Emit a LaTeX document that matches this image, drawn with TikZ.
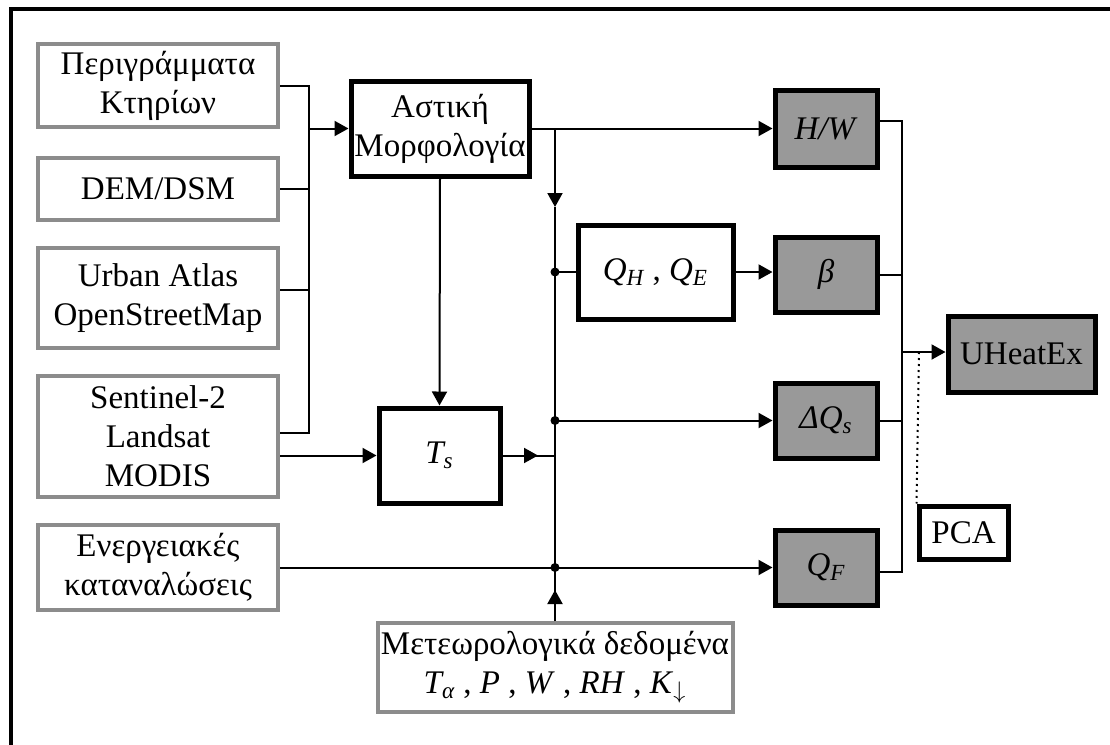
\documentclass[tikz,border=0pt]{standalone}
\usepackage{fontspec}
\setmainfont{Liberation Serif}
\usepackage{tikz}
\usetikzlibrary{positioning,calc,arrows.meta}

\definecolor{edgegray}{HTML}{8C8C8C}
\definecolor{boxgray}{HTML}{999999}

\begin{document}
\begin{tikzpicture}[x=0.5pt, y=-0.5pt,
        font=\fontsize{16.5}{19.5}\selectfont,
        inbox/.style={draw=edgegray, line width=2pt, fill=white, rectangle, align=center, inner sep=0pt, minimum width=120pt},
        block/.style={draw, line width=2.5pt, fill=white, rectangle, align=center, inner sep=0pt},
        outbox/.style={block, fill=boxgray, minimum width=51pt, minimum height=37.5pt},
        conn/.style={line width=1pt},
        dot/.style={circle, fill, inner sep=0pt, minimum size=4.5pt},
        >={Triangle[length=7pt,width=7.5pt]}
    ]
        \useasboundingbox (0,0) rectangle (1110,745);
        % frame
        \draw [line width=2pt] (11,745) -- (11,9) -- (1110,9);

        % input data
        \node [inbox, minimum height=41.5pt] (outl) at (158,85.5) {Περιγράμματα\\Κτηρίων};
        \node [inbox, minimum height=31pt] (dem) at (158,189) {DEM/DSM};
        \node [inbox, minimum height=50pt] (atlas) at (158,298) {Urban Atlas\\OpenStreetMap};
        \node [inbox, minimum height=60.5pt] (sat) at (158,436.5) {Sentinel-2\\Landsat\\MODIS};
        \node [inbox, minimum height=42.5pt] (energy) at (158,567.5) {Ενεργειακές\\καταναλώσεις};

        % processing
        \node [block, minimum width=89pt, minimum height=47.5pt] (morph) at (440,128.5) {Αστική\\Μορφολογία};
        \node [block, minimum width=60.5pt, minimum height=47.5pt] (ts) at (439.5,455.5) {\textit{T\textsubscript{s}}};
        \node [block, minimum width=77.5pt, minimum height=47pt] (flux) at (655.5,272) {\textit{Q\textsubscript{H}} , \textit{Q\textsubscript{E}}};
        \node [inbox, minimum width=177.5pt, minimum height=44.5pt] (meteo) at (555,667.5) {Μετεωρολογικά δεδομένα\\ \textit{T\textsubscript{α}} , \textit{P} , \textit{W} , \textit{RH} , \textit{K}\textsubscript{$\downarrow$}};

        % indicators
        \node [outbox, minimum height=38.5pt] (hw) at (826,128.5) {\textit{H/W}};
        \node [outbox] (beta) at (826,274.5) {\textit{β}};
        \node [outbox] (dqs) at (826,420.5) {\textit{ΔQ\textsubscript{s}}};
        \node [outbox] (qf) at (826,567.5) {\textit{Q\textsubscript{F}}};
        \node [block, fill=boxgray, minimum width=73.5pt, minimum height=38pt] (uhx) at (1021.5,354) {UHeatEx};
        \node [block, minimum width=44.5pt, minimum height=26.5pt] (pca) at (963.5,532.5) {PCA};

        % junction points
        \coordinate (jin) at (309,128.5);
        \coordinate (btop) at (555,128.5);
        \coordinate (bdown) at (555,207);
        \coordinate (bflux) at (555,272);
        \coordinate (bdqs) at (555,420.5);
        \coordinate (bts) at (538,455.5);
        \coordinate (bmet) at (555,590);
        \coordinate (jout) at (902,352);
        \coordinate (jpca) at (919,352);

        \draw [conn] (outl.east) -| (jin);
        \draw [conn] (dem.east) -| (jin);
        \draw [conn] ([yshift=4pt]atlas.east) -| (jin);
        \draw [conn] ([yshift=2pt]sat.east) -| (jin);
        \draw [conn,->] (jin) -- (morph.west);
        \draw [conn,->] (sat.east |- ts.west) -- (ts.west);
        \draw [conn,->] (morph.south) -- (ts.north);

        % central bus
        \draw [conn,->] (morph.east) -- (hw.west);
        \draw [conn,->] (btop) -- (bdown);
        \draw [conn] (bdown) -- (btop |- energy.east);
        \draw [conn] (ts.east) -- (btop |- ts.east);
        \draw [conn,->] (ts.east) -- (bts);
        \draw [conn] (bflux) -- (flux.west);
        \draw [conn,->] (flux.east) -- (flux.east -| beta.west);
        \draw [conn,->] (bdqs) -- (dqs.west);
        \draw [conn,->] (energy.east) -- (qf.west);
        \draw [conn] (meteo.north) -- (btop |- energy.east);
        \draw [conn,->] (meteo.north) -- (bmet);
        \node [dot] at (bflux) {};
        \node [dot] at (bdqs) {};
        \node [dot] at (btop |- energy.east) {};

        % output collector
        \draw [conn] ([yshift=3.75pt]hw.east) -| (jout);
        \draw [conn] (beta.east) -| (jout);
        \draw [conn] (dqs.east) -| (jout);
        \draw [conn] ([yshift=-2pt]qf.east) -| (jout);
        \draw [conn,->] (jout) -- (jout -| uhx.west);
        \draw [line width=1pt, dash pattern=on 1pt off 2pt] (jpca) -- (pca.north west);
    \end{tikzpicture}
\end{document}
